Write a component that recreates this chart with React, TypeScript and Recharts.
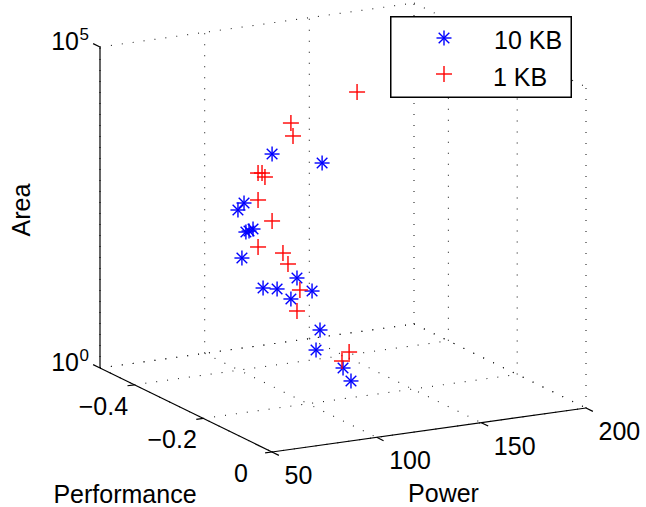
import React from 'react';
import { ScatterChart, Scatter, XAxis, YAxis, ReferenceLine, Legend } from 'recharts';

// ---------- data (view-plane coordinates: projected power, projected log10(area)) ----------
const seriesNames = ['10 KB', '1 KB'];
const kb10Points: [number, number][] = [
  [132.2, 3.333], [156.1, 3.193], [118.8, 2.57], [115.9, 2.461], [119.7, 2.118],
  [121.2, 2.134], [123.1, 2.165], [117.8, 1.713], [144.1, 1.402], [127.9, 1.246],
  [134.6, 1.231], [151.3, 1.199], [141.2, 1.075], [155.1, 0.592], [153.2, 0.28],
  [166.1, 0.0], [169.9, -0.202],
];
const kb1Points: [number, number][] = [
  [172.8, 4.299], [141.2, 3.816], [142.2, 3.614], [125.5, 3.037], [127.4, 3.037],
  [128.8, 2.975], [125.5, 2.617], [132.2, 2.29], [125.5, 1.885], [137.4, 1.791],
  [139.8, 1.62], [145.5, 1.215], [144.1, 0.888], [169.0, 0.249], [165.6, 0.109],
];
const perfRange = [-0.5, 0];
const powerRange = [50, 200];
const areaExpRange = [0, 5];
const perfTicks = [-0.4, -0.2, 0];
const powerTicks = [50, 100, 150, 200];
const areaExpTicks = [0, 5];
const axisTitles = ['Performance', 'Power', 'Area'];

// ---------- view geometry ----------
const W = 646;
const H = 507;
const PX_PER_U = 314 / 150;
const PX_PER_V = 321 / 5;
const ORIGIN_X = 100;
const ORIGIN_Y = 368;
const U0 = powerRange[0] - ORIGIN_X / PX_PER_U;
const U1 = U0 + W / PX_PER_U;
const V1 = ORIGIN_Y / PX_PER_V;
const V0 = V1 - H / PX_PER_V;
const PERF_U = 344 / PX_PER_U;
const PERF_V = -168 / PX_PER_V;
const POWER_V = 44 / 150 / PX_PER_V;

function P(perf: number, power: number, e: number) {
  const dp = perf - perfRange[0];
  return {
    x: power + dp * PERF_U,
    y: e + (power - powerRange[0]) * POWER_V + dp * PERF_V,
  };
}

const FONT = '"Liberation Sans", Arial, Helvetica, sans-serif';
const FS = 25;

type Seg = [{ x: number; y: number }, { x: number; y: number }];
const [pMin, pMax] = perfRange;
const [wMin, wMax] = powerRange;
const [eMin, eMax] = areaExpRange;

const solidSegs: Seg[] = [
  [P(pMin, wMin, eMin), P(pMin, wMin, eMax)],
  [P(pMin, wMin, eMin), P(pMax, wMin, eMin)],
  [P(pMax, wMin, eMin), P(pMax, wMax, eMin)],
  ...areaExpTicks.map((e) => [P(pMin, wMin, e), P(pMin - 0.02, wMin, e)] as Seg),
  ...perfTicks.map((p) => [P(p, wMin, eMin), P(p, wMin - 3.3, eMin)] as Seg),
  ...powerTicks.map((w) => [P(pMax, w, eMin), P(pMax + 0.02, w, eMin)] as Seg),
];

const dottedSegs: Seg[] = [
  // back wall
  ...powerTicks.map((w) => [P(pMin, w, eMin), P(pMin, w, eMax)] as Seg),
  ...areaExpTicks.map((e) => [P(pMin, wMin, e), P(pMin, wMax, e)] as Seg),
  // right wall
  ...perfTicks.map((p) => [P(p, wMax, eMin), P(p, wMax, eMax)] as Seg),
  ...areaExpTicks.map((e) => [P(pMin, wMax, e), P(pMax, wMax, e)] as Seg),
  // floor
  ...powerTicks.map((w) => [P(pMin, w, eMin), P(pMax, w, eMin)] as Seg),
  ...[pMin, ...perfTicks].map((p) => [P(p, wMin, eMin), P(p, wMax, eMin)] as Seg),
];

const kb10Data = kb10Points.map(([x, y]) => ({ x, y }));
const kb1Data = kb1Points.map(([x, y]) => ({ x, y }));

const perfLabelData = perfTicks.map((p) => ({ ...P(p, wMin, eMin), text: p === 0 ? '0' : '\u2212' + Math.abs(p).toString() }));
const powerLabelData = powerTicks.map((w) => ({ ...P(pMax, w, eMin), text: String(w) }));
const areaLabelData = areaExpTicks.map((e) => ({ ...P(pMin, wMin, e), text: String(e) }));
const titleData = [
  { ...P((pMin + pMax) / 2, wMin, eMin), text: axisTitles[0], dx: -61, dy: 93, rot: false },
  { ...P(pMax, (wMin + wMax) / 2, eMin), text: axisTitles[1], dx: 14.5, dy: 72, rot: false },
  { ...P(pMin, wMin, (eMin + eMax) / 2), text: axisTitles[2], dx: -70, dy: 2.5, rot: true },
];

const Star = ({ cx, cy }: any) => (
  <g stroke="#0000ff" strokeWidth={1.4}>
    <line x1={cx - 7.5} y1={cy} x2={cx + 7.5} y2={cy} />
    <line x1={cx} y1={cy - 7.5} x2={cx} y2={cy + 7.5} />
    <line x1={cx - 5.3} y1={cy - 5.3} x2={cx + 5.3} y2={cy + 5.3} />
    <line x1={cx - 5.3} y1={cy + 5.3} x2={cx + 5.3} y2={cy - 5.3} />
  </g>
);
const Plus = ({ cx, cy }: any) => (
  <g stroke="#ff0000" strokeWidth={1.4}>
    <line x1={cx - 8} y1={cy} x2={cx + 8} y2={cy} />
    <line x1={cx} y1={cy - 8} x2={cx} y2={cy + 8} />
  </g>
);

const PerfLabel = ({ cx, cy, payload }: any) => (
  <text x={cx - 31} y={cy + 30} textAnchor="middle" fontFamily={FONT} fontSize={FS} fill="#000">
    {payload.text}
  </text>
);
const PowerLabel = ({ cx, cy, payload }: any) => (
  <text x={cx + 12.5} y={cy + 32} textAnchor="start" fontFamily={FONT} fontSize={FS} fill="#000">
    {payload.text}
  </text>
);
const AreaLabel = ({ cx, cy, payload }: any) => (
  <g fontFamily={FONT} fill="#000">
    <text x={cx - 21} y={cy + 3} textAnchor="end" fontSize={FS}>10</text>
    <text x={cx - 20.5} y={cy - 7} textAnchor="start" fontSize={17}>{payload.text}</text>
  </g>
);
const TitleLabel = ({ cx, cy, payload }: any) => {
  const x = cx + payload.dx;
  const y = cy + payload.dy;
  return (
    <text
      x={x}
      y={y}
      textAnchor="middle"
      fontFamily={FONT}
      fontSize={FS}
      fill="#000"
      transform={payload.rot ? `rotate(-90 ${x} ${y})` : undefined}
    >
      {payload.text}
    </text>
  );
};

const LegendBox = () => (
  <svg width={182} height={82} style={{ display: 'block' }}>
    <rect x={0.75} y={0.75} width={180.5} height={80.5} fill="#fff" stroke="#000" strokeWidth={1.5} />
    <Star cx={54} cy={22} />
    <text x={104} y={33} fontFamily={FONT} fontSize={FS} fill="#000">{seriesNames[0]}</text>
    <Plus cx={54} cy={58} />
    <text x={103} y={70} fontFamily={FONT} fontSize={FS} fill="#000">{seriesNames[1]}</text>
  </svg>
);

export default function App() {
  return (
    <div style={{ position: 'absolute', left: 0, top: 0, width: W, height: H, background: '#fff' }}>
      <ScatterChart width={W} height={H} margin={{ top: 0, right: 0, bottom: 0, left: 0 }}>
        <XAxis type="number" dataKey="x" domain={[U0, U1]} allowDataOverflow hide />
        <YAxis type="number" dataKey="y" domain={[V0, V1]} allowDataOverflow hide />
        {dottedSegs.map((s, i) => (
          <ReferenceLine key={'d' + i} segment={s} stroke="#222" strokeWidth={1.1} strokeDasharray="1 10" ifOverflow="visible" />
        ))}
        {solidSegs.map((s, i) => (
          <ReferenceLine key={'s' + i} segment={s} stroke="#000" strokeWidth={1.2} ifOverflow="visible" />
        ))}
        <Scatter name={seriesNames[0]} data={kb10Data} shape={<Star />} isAnimationActive={false} />
        <Scatter name={seriesNames[1]} data={kb1Data} shape={<Plus />} isAnimationActive={false} />
        <Scatter name="perfLabels" data={perfLabelData} shape={<PerfLabel />} legendType="none" isAnimationActive={false} />
        <Scatter name="powerLabels" data={powerLabelData} shape={<PowerLabel />} legendType="none" isAnimationActive={false} />
        <Scatter name="areaLabels" data={areaLabelData} shape={<AreaLabel />} legendType="none" isAnimationActive={false} />
        <Scatter name="titles" data={titleData} shape={<TitleLabel />} legendType="none" isAnimationActive={false} />
        <Legend
          layout="vertical"
          align="center"
          verticalAlign="middle"
          content={() => <LegendBox />}
          wrapperStyle={{ left: 390, top: 16, width: 182, height: 82, lineHeight: 0 }}
        />
      </ScatterChart>
    </div>
  );
}
